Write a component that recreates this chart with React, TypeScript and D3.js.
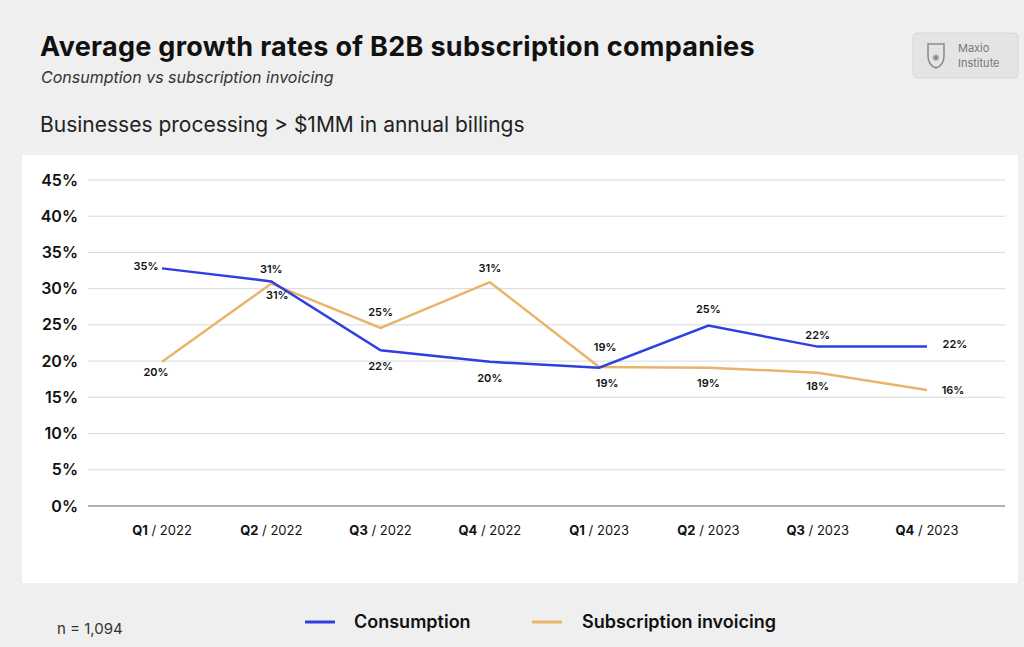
import * as d3 from "d3";
import React from "react";

const quarters = ["Q1", "Q2", "Q3", "Q4", "Q1", "Q2", "Q3", "Q4"];
const years = ["2022", "2022", "2022", "2022", "2023", "2023", "2023", "2023"];
const consumption = [32.8, 31.0, 21.5, 19.9, 19.1, 24.9, 22.0, 22.0];
const consumptionLabels = ["35%", "31%", "22%", "20%", "19%", "25%", "22%", "22%"];
const subscription = [19.9, 30.7, 24.6, 30.9, 19.2, 19.1, 18.4, 16.0];
const subscriptionLabels = ["20%", "31%", "25%", "31%", "19%", "19%", "18%", "16%"];
const yTicks = [0, 5, 10, 15, 20, 25, 30, 35, 40, 45];

const BLUE = "#2f3fe0";
const ORANGE = "#e8b46a";
const FONT = "Inter, 'Noto Sans', sans-serif";

// label offsets [dx, dy] per point
const consOff = [[-16, -2], [0, -12], [0, 16], [0, 16], [8, 16], [0, -16], [0, -11], [28, -2]];
const subOff = [[-6, 10], [6, 12], [0, -16], [0, -14], [6, -20], [0, 16], [0, 13], [26, 0]];

export default function App() {
  const x = d3.scalePoint<number>().domain(d3.range(8)).range([162, 927]);
  const y = d3.scaleLinear().domain([0, 45]).range([506, 180]);
  const line = d3
    .line<number>()
    .x((_, i) => x(i)!)
    .y((d) => y(d));

  return (
    <svg width={1024} height={647} style={{ position: "absolute", left: 0, top: 0 }} fontFamily={FONT}>
      <rect width={1024} height={647} fill="#efefef" />
      <text x={40} y={56} fontSize={27} fontWeight={700} fill="#111" letterSpacing={0.3}>
        Average growth rates of B2B subscription companies
      </text>
      <text x={41} y={83} fontSize={16} fontStyle="italic" fill="#333">
        Consumption vs subscription invoicing
      </text>
      <text x={40} y={132} fontSize={21} fill="#222">
        Businesses processing &gt; $1MM in annual billings
      </text>
      {/* logo */}
      <rect x={913} y={33} width={105} height={45} rx={4} fill="#e4e4e4" stroke="#d6d6d6" />
      <path d="M928,44 h16 v12 q0,9 -8,12 q-8,-3 -8,-12 z" fill="none" stroke="#888" strokeWidth={1.5} />
      <text x={936} y={61} fontSize={9} fill="#888" textAnchor="middle">✺</text>
      <text x={958} y={52} fontSize={11} fill="#777">Maxio</text>
      <text x={958} y={67} fontSize={11} fill="#777">Institute</text>

      <rect x={22} y={155} width={996} height={428} fill="#fff" />
      {yTicks.map((t) => (
        <g key={t}>
          <line x1={88} x2={1005} y1={y(t)} y2={y(t)} stroke={t === 0 ? "#999" : "#d9d9d9"} strokeWidth={t === 0 ? 1.5 : 1} />
          <text x={78} y={y(t)} dy="0.35em" textAnchor="end" fontSize={16} fontWeight={600} fill="#111">
            {t}%
          </text>
        </g>
      ))}
      {quarters.map((q, i) => (
        <text key={i} x={x(i)} y={535} textAnchor="middle" fontSize={13} fill="#111">
          <tspan fontWeight={700}>{q}</tspan> / {years[i]}
        </text>
      ))}
      <path d={line(subscription)!} fill="none" stroke={ORANGE} strokeWidth={2.5} />
      <path d={line(consumption)!} fill="none" stroke={BLUE} strokeWidth={2.5} />
      {consumption.map((v, i) => (
        <text key={"c" + i} x={x(i)! + consOff[i][0]} y={y(v) + consOff[i][1]} dy="0.35em" textAnchor="middle" fontSize={11} fontWeight={600} fill="#111">
          {consumptionLabels[i]}
        </text>
      ))}
      {subscription.map((v, i) => (
        <text key={"s" + i} x={x(i)! + subOff[i][0]} y={y(v) + subOff[i][1]} dy="0.35em" textAnchor="middle" fontSize={11} fontWeight={600} fill="#111">
          {subscriptionLabels[i]}
        </text>
      ))}

      <text x={57} y={634} fontSize={15} fill="#333">n = 1,094</text>
      <line x1={305} x2={335} y1={622} y2={622} stroke={BLUE} strokeWidth={3} />
      <text x={354} y={628} fontSize={18} fontWeight={600} fill="#111">Consumption</text>
      <line x1={532} x2={562} y1={622} y2={622} stroke={ORANGE} strokeWidth={3} />
      <text x={582} y={628} fontSize={18} fontWeight={600} fill="#111">Subscription invoicing</text>
    </svg>
  );
}
